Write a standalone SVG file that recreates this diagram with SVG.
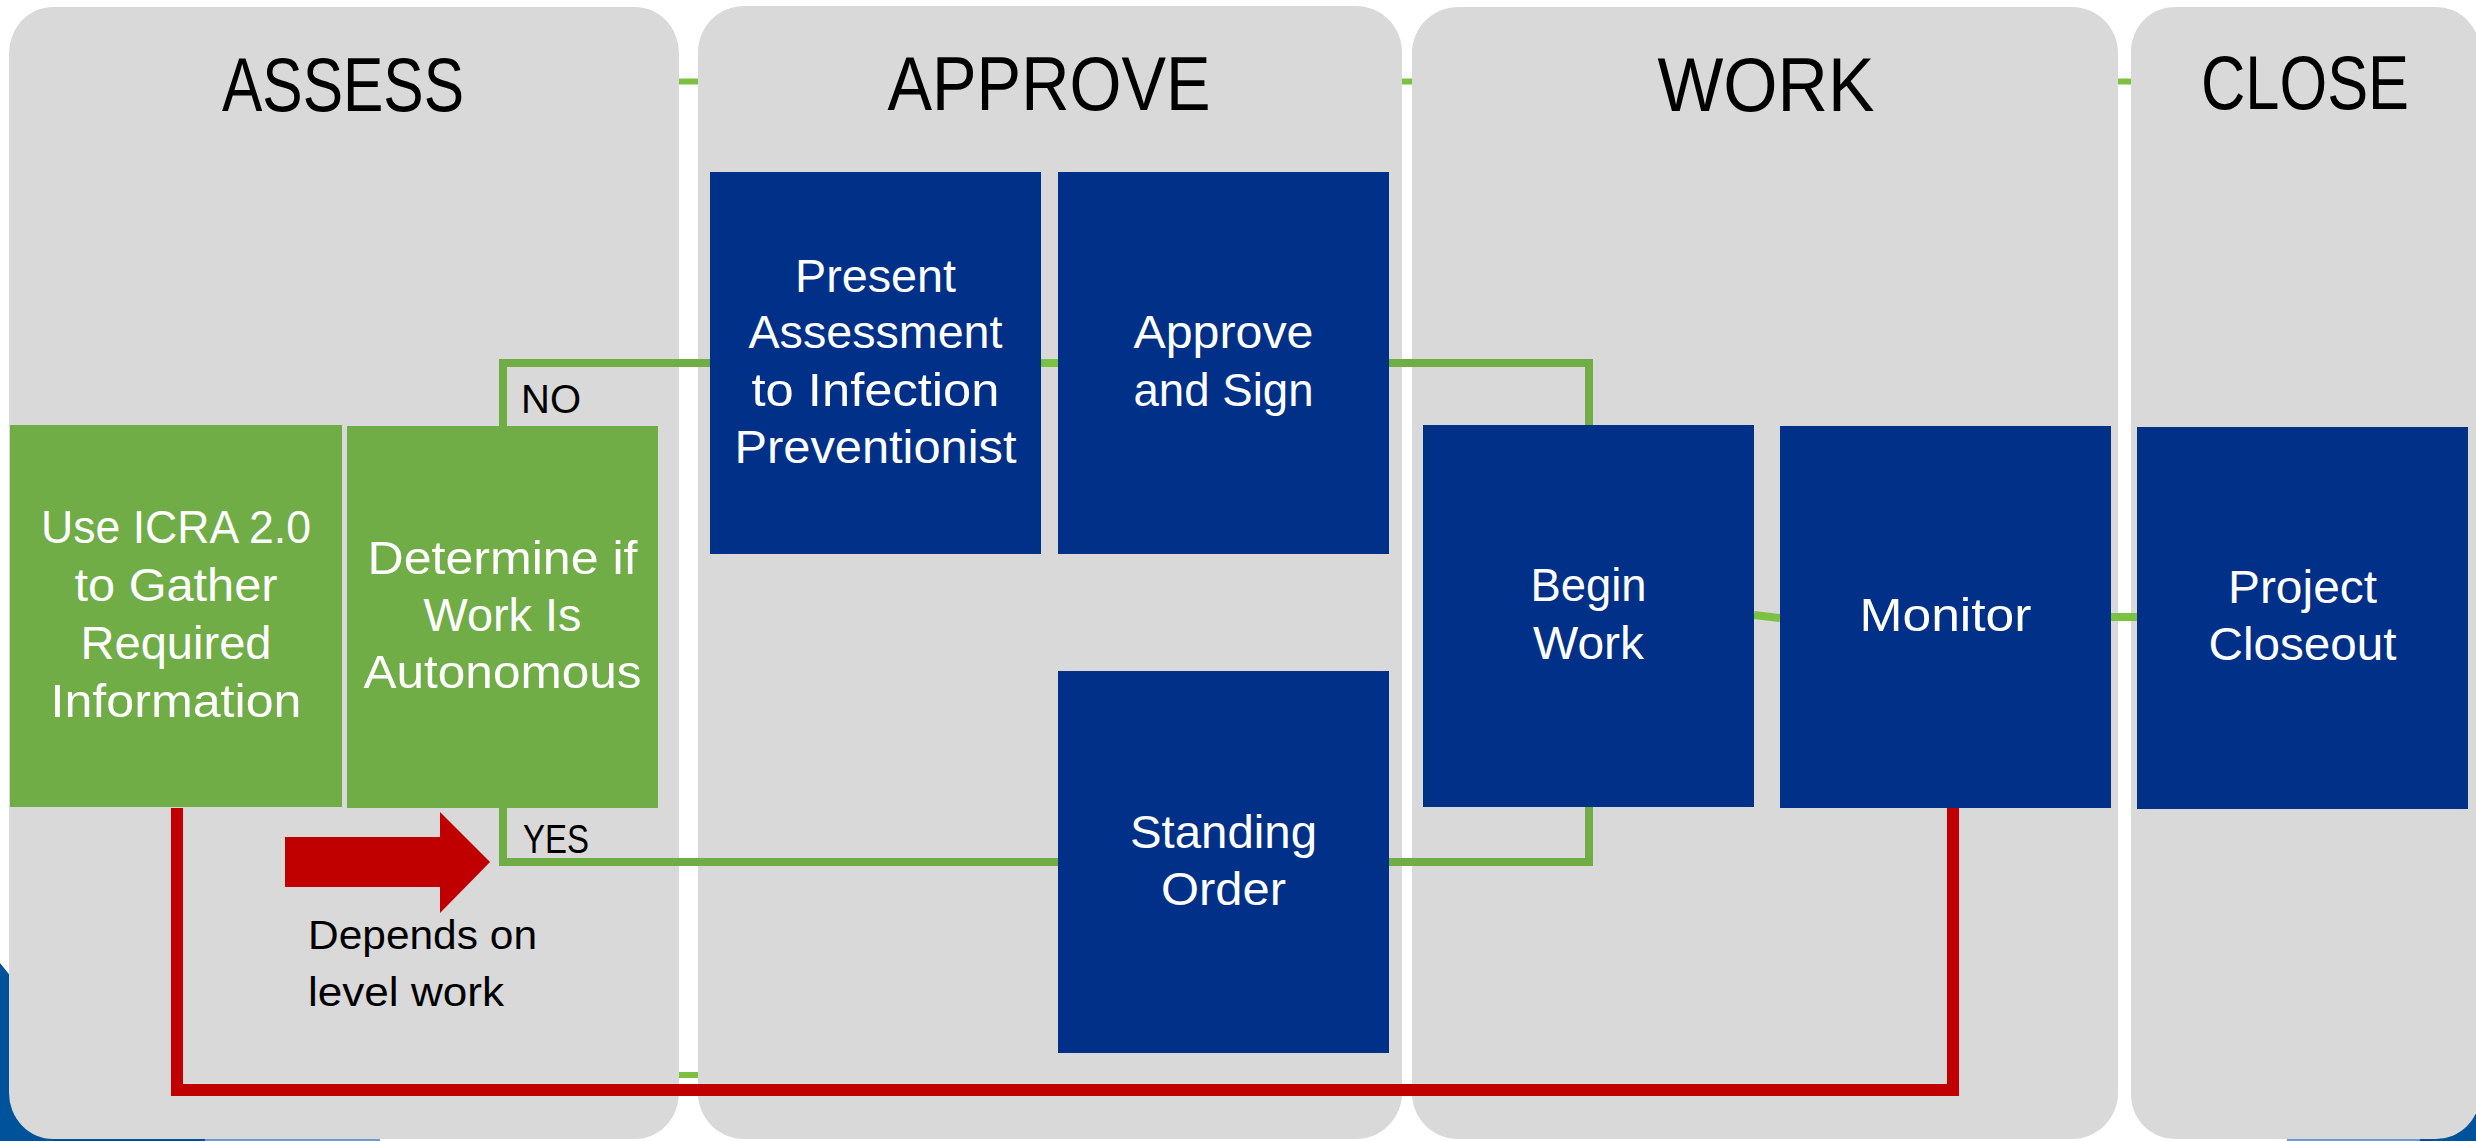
<svg xmlns="http://www.w3.org/2000/svg" width="2476" height="1141" viewBox="0 0 2476 1141">
<style>
text{font-family:"Liberation Sans",Arial,sans-serif}
.panel{fill:#d9d9d9}
.title{font-size:76px;fill:#000;text-anchor:middle}
.gbox{fill:#70ad47}
.bbox{fill:#003087}
.nt{font-size:47px;fill:#fff;text-anchor:middle}
.lbl{font-size:41px;fill:#000}
.conn{fill:none;stroke:#70ad47;stroke-width:8}
.dash{fill:none;stroke:#7dc142;stroke-width:8}
.tl{fill:none;stroke:#7dc142;stroke-width:6}
.red{fill:none;stroke:#c00000;stroke-width:12}
.bgblue{fill:#00539b}
.bglight{fill:#6a9bd0}
</style>
<rect width="2476" height="1141" fill="#fff"/>
<g id="background">
  <path class="bgblue" d="M0,963 L12,978 L12,1141 L0,1141 Z"/>
  <rect class="bgblue" x="0" y="1100" width="205" height="41"/>
  <rect class="bglight" x="205" y="1139" width="175" height="2"/>
  <rect class="bglight" x="2287" y="1139" width="163" height="2"/>
  <rect class="bgblue" x="2420" y="1090" width="56" height="51"/>
  <line class="tl" x1="679" y1="81.5" x2="2131" y2="81.5"/>
  <line class="tl" x1="679" y1="1075" x2="700" y2="1075"/>
</g>
<g id="panels">
  <g id="panel-assess">
    <rect class="panel" x="9" y="7" width="670" height="1132" rx="44" ry="46"/>
    <text class="title" x="343" y="111" textLength="242" lengthAdjust="spacingAndGlyphs">ASSESS</text>
  </g>
  <g id="panel-approve">
    <rect class="panel" x="698" y="6" width="704" height="1133" rx="46" ry="46"/>
    <text class="title" x="1049" y="110" textLength="323" lengthAdjust="spacingAndGlyphs">APPROVE</text>
  </g>
  <g id="panel-work">
    <rect class="panel" x="1412" y="7" width="706" height="1132" rx="46" ry="46"/>
    <text class="title" x="1766" y="111" textLength="217" lengthAdjust="spacingAndGlyphs">WORK</text>
  </g>
  <g id="panel-close">
    <rect class="panel" x="2131" y="7" width="349" height="1132" rx="44" ry="44"/>
    <text class="title" x="2305" y="109" textLength="208" lengthAdjust="spacingAndGlyphs">CLOSE</text>
  </g>
</g>
<g id="connectors">
  <path class="conn" d="M503,426 V363 H710"/>
  <path class="dash" d="M1041,363 H1058"/>
  <path class="conn" d="M1389,363 H1589 V425"/>
  <path class="conn" d="M503,808 V862 H1058"/>
  <path class="conn" d="M1389,862 H1589 V807"/>
  <path class="dash" d="M1754,615 L1780,618"/>
  <path class="dash" d="M2111,617 H2137"/>
  <path class="red" d="M177,808 V1090 H1953 V808"/>
</g>
<g id="depends-arrow">
  <polygon fill="#c00000" points="285,837 440,837 440,812 490,862 440,913 440,887 285,887"/>
  <text class="lbl" x="308" y="949" textLength="229" lengthAdjust="spacingAndGlyphs">Depends on</text>
  <text class="lbl" x="308" y="1006" textLength="196" lengthAdjust="spacingAndGlyphs">level work</text>
</g>
<g id="label-no"><text class="lbl" x="521" y="413" textLength="60" lengthAdjust="spacingAndGlyphs">NO</text></g>
<g id="label-yes"><text class="lbl" x="523" y="853" textLength="66" lengthAdjust="spacingAndGlyphs">YES</text></g>
<g id="node-use-icra">
  <rect class="gbox" x="10" y="425" width="332" height="382"/>
  <text class="nt" x="176" y="543" textLength="270" lengthAdjust="spacingAndGlyphs">Use ICRA 2.0</text>
  <text class="nt" x="176" y="601" textLength="203" lengthAdjust="spacingAndGlyphs">to Gather</text>
  <text class="nt" x="176" y="659" textLength="191" lengthAdjust="spacingAndGlyphs">Required</text>
  <text class="nt" x="176" y="717" textLength="251" lengthAdjust="spacingAndGlyphs">Information</text>
</g>
<g id="node-determine">
  <rect class="gbox" x="347" y="426" width="311" height="382"/>
  <text class="nt" x="502.5" y="574" textLength="270" lengthAdjust="spacingAndGlyphs">Determine if</text>
  <text class="nt" x="502.5" y="631" textLength="158" lengthAdjust="spacingAndGlyphs">Work Is</text>
  <text class="nt" x="502.5" y="688" textLength="278" lengthAdjust="spacingAndGlyphs">Autonomous</text>
</g>
<g id="node-present">
  <rect class="bbox" x="710" y="172" width="331" height="382"/>
  <text class="nt" x="875.5" y="292" textLength="161" lengthAdjust="spacingAndGlyphs">Present</text>
  <text class="nt" x="875.5" y="348" textLength="254" lengthAdjust="spacingAndGlyphs">Assessment</text>
  <text class="nt" x="875.5" y="406" textLength="248" lengthAdjust="spacingAndGlyphs">to Infection</text>
  <text class="nt" x="875.5" y="463" textLength="282" lengthAdjust="spacingAndGlyphs">Preventionist</text>
</g>
<g id="node-approve-sign">
  <rect class="bbox" x="1058" y="172" width="331" height="382"/>
  <text class="nt" x="1223.5" y="348" textLength="180" lengthAdjust="spacingAndGlyphs">Approve</text>
  <text class="nt" x="1223.5" y="406" textLength="180" lengthAdjust="spacingAndGlyphs">and Sign</text>
</g>
<g id="node-standing-order">
  <rect class="bbox" x="1058" y="671" width="331" height="382"/>
  <text class="nt" x="1223.5" y="848" textLength="187" lengthAdjust="spacingAndGlyphs">Standing</text>
  <text class="nt" x="1223.5" y="905" textLength="125" lengthAdjust="spacingAndGlyphs">Order</text>
</g>
<g id="node-begin-work">
  <rect class="bbox" x="1423" y="425" width="331" height="382"/>
  <text class="nt" x="1588.5" y="601" textLength="116" lengthAdjust="spacingAndGlyphs">Begin</text>
  <text class="nt" x="1588.5" y="659" textLength="111" lengthAdjust="spacingAndGlyphs">Work</text>
</g>
<g id="node-monitor">
  <rect class="bbox" x="1780" y="426" width="331" height="382"/>
  <text class="nt" x="1945.5" y="631" textLength="172" lengthAdjust="spacingAndGlyphs">Monitor</text>
</g>
<g id="node-project-closeout">
  <rect class="bbox" x="2137" y="427" width="331" height="382"/>
  <text class="nt" x="2302.5" y="603" textLength="149" lengthAdjust="spacingAndGlyphs">Project</text>
  <text class="nt" x="2302.5" y="660" textLength="188" lengthAdjust="spacingAndGlyphs">Closeout</text>
</g>
</svg>
